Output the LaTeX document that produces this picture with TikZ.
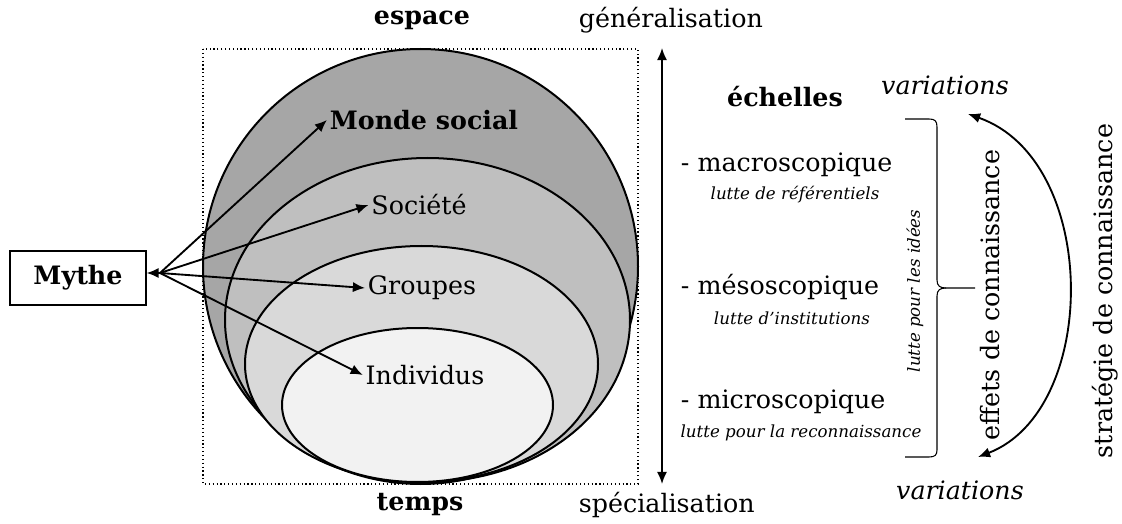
\documentclass[tikz,border=0pt]{standalone}
\usepackage{fontspec}
\setmainfont{DejaVu Serif}
\usepackage{xcolor}
\usepackage{tikz}
\usetikzlibrary{positioning,arrows.meta}
\definecolor{monde}{HTML}{A6A6A6}
\definecolor{societe}{HTML}{BFBFBF}
\definecolor{groupe}{HTML}{D9D9D9}
\definecolor{indiv}{HTML}{F2F2F2}

\begin{document}
\begin{tikzpicture}[
  x=0.75pt, y=-0.75pt,
  >={Latex[length=3.2mm, width=2.7mm]},
  txt/.style={font=\fontsize{19}{23}\selectfont, inner sep=2pt},
  btxt/.style={font=\fontsize{19}{23}\selectfont\bfseries, inner sep=2pt},
  itxt/.style={font=\fontsize{19}{23}\selectfont\itshape, inner sep=0pt},
  note/.style={font=\fontsize{12.5}{15}\selectfont\itshape, inner sep=0pt},
  ring/.style={draw, line width=1.5pt},
  link/.style={->, line width=1.4pt}
  ]
  \useasboundingbox (0,0) rectangle (1122,524);

  % nested circles
  \draw[dotted, line width=0.9pt] (203,49) rectangle (638,484);
  \draw[ring, fill=monde]   (420.5,266.5) ellipse [x radius=217.5, y radius=217.5];
  \draw[ring, fill=societe] (427.5,320) ellipse [x radius=202.5, y radius=162];
  \draw[ring, fill=groupe]  (421.5,364) ellipse [x radius=176.5, y radius=118];
  \draw[ring, fill=indiv]   (417.5,405) ellipse [x radius=135.5, y radius=77];

  \node[btxt] (monde)     at (424,120) {Monde social};
  \node[txt]  (societe)   at (419,205) {Société};
  \node[txt]  (groupes)   at (422,288) {Groupes};
  \node[txt]  (individus) at (425,375) {Individus};

  \node[btxt] (espace) at (422,20)  {espace};
  \node[btxt] (temps)  at (420,505) {temps};

  % mythe
  \node[draw, line width=0.8pt, btxt, minimum width=102pt, minimum height=40.5pt] (mythe) at (78,278) {Mythe};
  \coordinate (j) at (160,273);
  \draw[link] (j) -- (mythe.east |- j);
  \draw[link] (j) -- (monde.west);
  \draw[link] (j) -- (societe.west);
  \draw[link] (j) -- (groupes.west);
  \draw[link] (j) -- (individus.west);

  % axe
  \coordinate (gtop) at (662,48);
  \coordinate (gbot) at (662,484);
  \draw[<->, line width=1.4pt] (gtop) -- (gbot);
  \node[txt, anchor=west] (gen)  at (576,20)  {généralisation};
  \node[txt, anchor=west] (spec) at (576,505) {spécialisation};

  % echelles
  \node[btxt] (echelles) at (785,97) {échelles};
  \node[txt, anchor=west] (macro) at (678,165) {- macroscopique};
  \node[note] (macroL) at (795,195) {lutte de référentiels};
  \node[txt, anchor=west] (meso) at (678,287) {- mésoscopique};
  \node[note] (mesoL) at (792,318) {lutte d’institutions};
  \node[txt, anchor=west] (micro) at (678,402) {- microscopique};
  \node[note] (microL) at (801,433) {lutte pour la reconnaissance};

  % accolade
  \draw[line width=0.8pt] (905,119) -- (929,119) .. controls (935,119) and (937,121) .. (937,127)
    -- (937,280) .. controls (937,286) and (940,288) .. (946,288) -- (975,288);
  \draw[line width=0.8pt] (946,288) .. controls (940,288) and (937,290) .. (937,296)
    -- (937,450) .. controls (937,455) and (935,457) .. (929,457) -- (905,457);
  \node[note, rotate=90] (idees) at (915,291) {lutte pour les idées};

  % variations
  \node[itxt] (vartop) at (945,85)  {variations};
  \node[itxt] (varbot) at (960,490) {variations};
  \coordinate (ctop) at (968,114);
  \coordinate (cbot) at (978,457);
  \draw[<->, line width=1.4pt] (ctop) .. controls (1100,160) and (1100,410) .. (cbot);
  \node[txt, rotate=90] (effets)    at (990,295)  {effets de connaissance};
  \node[txt, rotate=90] (strategie) at (1105,291) {stratégie de connaissance};
\end{tikzpicture}
\end{document}
